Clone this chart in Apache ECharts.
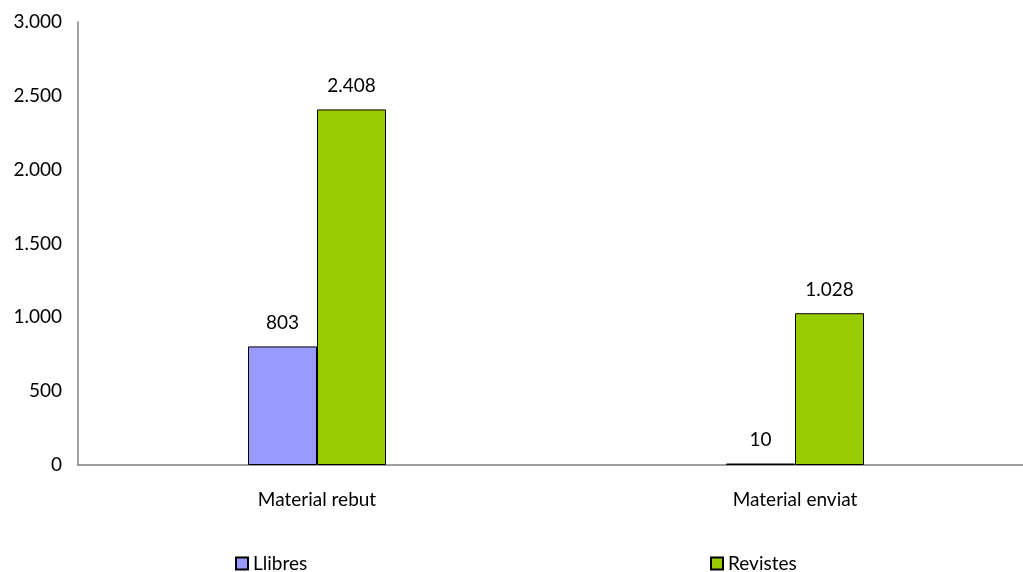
<!DOCTYPE html>
<html>
<head>
<meta charset="utf-8">
<script src="https://cdn.jsdelivr.net/npm/echarts@6/dist/echarts.min.js"></script>
<style>html,body{margin:0;padding:0;background:#fff;overflow:hidden;width:1023px;height:572px}#c{width:1034px;height:572px}</style>
</head>
<body>
<div id="c"></div>
<script>
const categories = ['Material rebut', 'Material enviat'];
const llibres = [803, 10];
const revistes = [2408, 1028];
const seriesNames = ['Llibres', 'Revistes'];

function fmt(v) {
  return String(v).replace(/\B(?=(\d{3})+(?!\d))/g, '.');
}
const FONT = 'Lato';
const FS = 19;
const chart = echarts.init(document.getElementById('c'));
const lbl = {
  show: true, position: 'top', distance: 14,
  color: '#000', fontFamily: FONT, fontSize: FS,
  formatter: p => fmt(p.value)
};
const legendText = { fontFamily: FONT, fontSize: FS, color: '#000' };
chart.setOption({
  animation: false,
  textStyle: { fontFamily: FONT },
  grid: { left: 78, right: 0, top: 22, bottom: 107, containLabel: false },
  legend: [
    { data: [seriesNames[0]], left: 235, top: 554, padding: 0, icon: 'rect', itemWidth: 12, itemHeight: 12, itemGap: 4,
      textStyle: legendText },
    { data: [seriesNames[1]], left: 710, top: 554, padding: 0, icon: 'rect', itemWidth: 12, itemHeight: 12, itemGap: 4,
      textStyle: legendText }
  ],
  xAxis: {
    type: 'category', data: categories,
    axisLine: { lineStyle: { color: '#808080', width: 1.5 } },
    axisTick: { show: false },
    axisLabel: { color: '#000', fontFamily: FONT, fontSize: FS, margin: 25 }
  },
  yAxis: {
    type: 'value', min: 0, max: 3000, interval: 500,
    axisLine: { show: true, lineStyle: { color: '#808080', width: 1.5 } },
    axisTick: { show: false },
    splitLine: { show: false },
    axisLabel: { color: '#000', fontFamily: FONT, fontSize: FS, margin: 16, formatter: v => fmt(v) }
  },
  series: [
    { name: seriesNames[0], type: 'bar', data: llibres, barWidth: 69, barGap: '0%',
      itemStyle: { color: '#9999FF', borderColor: '#000', borderWidth: 1 }, label: lbl },
    { name: seriesNames[1], type: 'bar', data: revistes, barWidth: 69, barGap: '0%',
      itemStyle: { color: '#99CC00', borderColor: '#000', borderWidth: 1 }, label: lbl }
  ]
});
</script>
</body>
</html>
